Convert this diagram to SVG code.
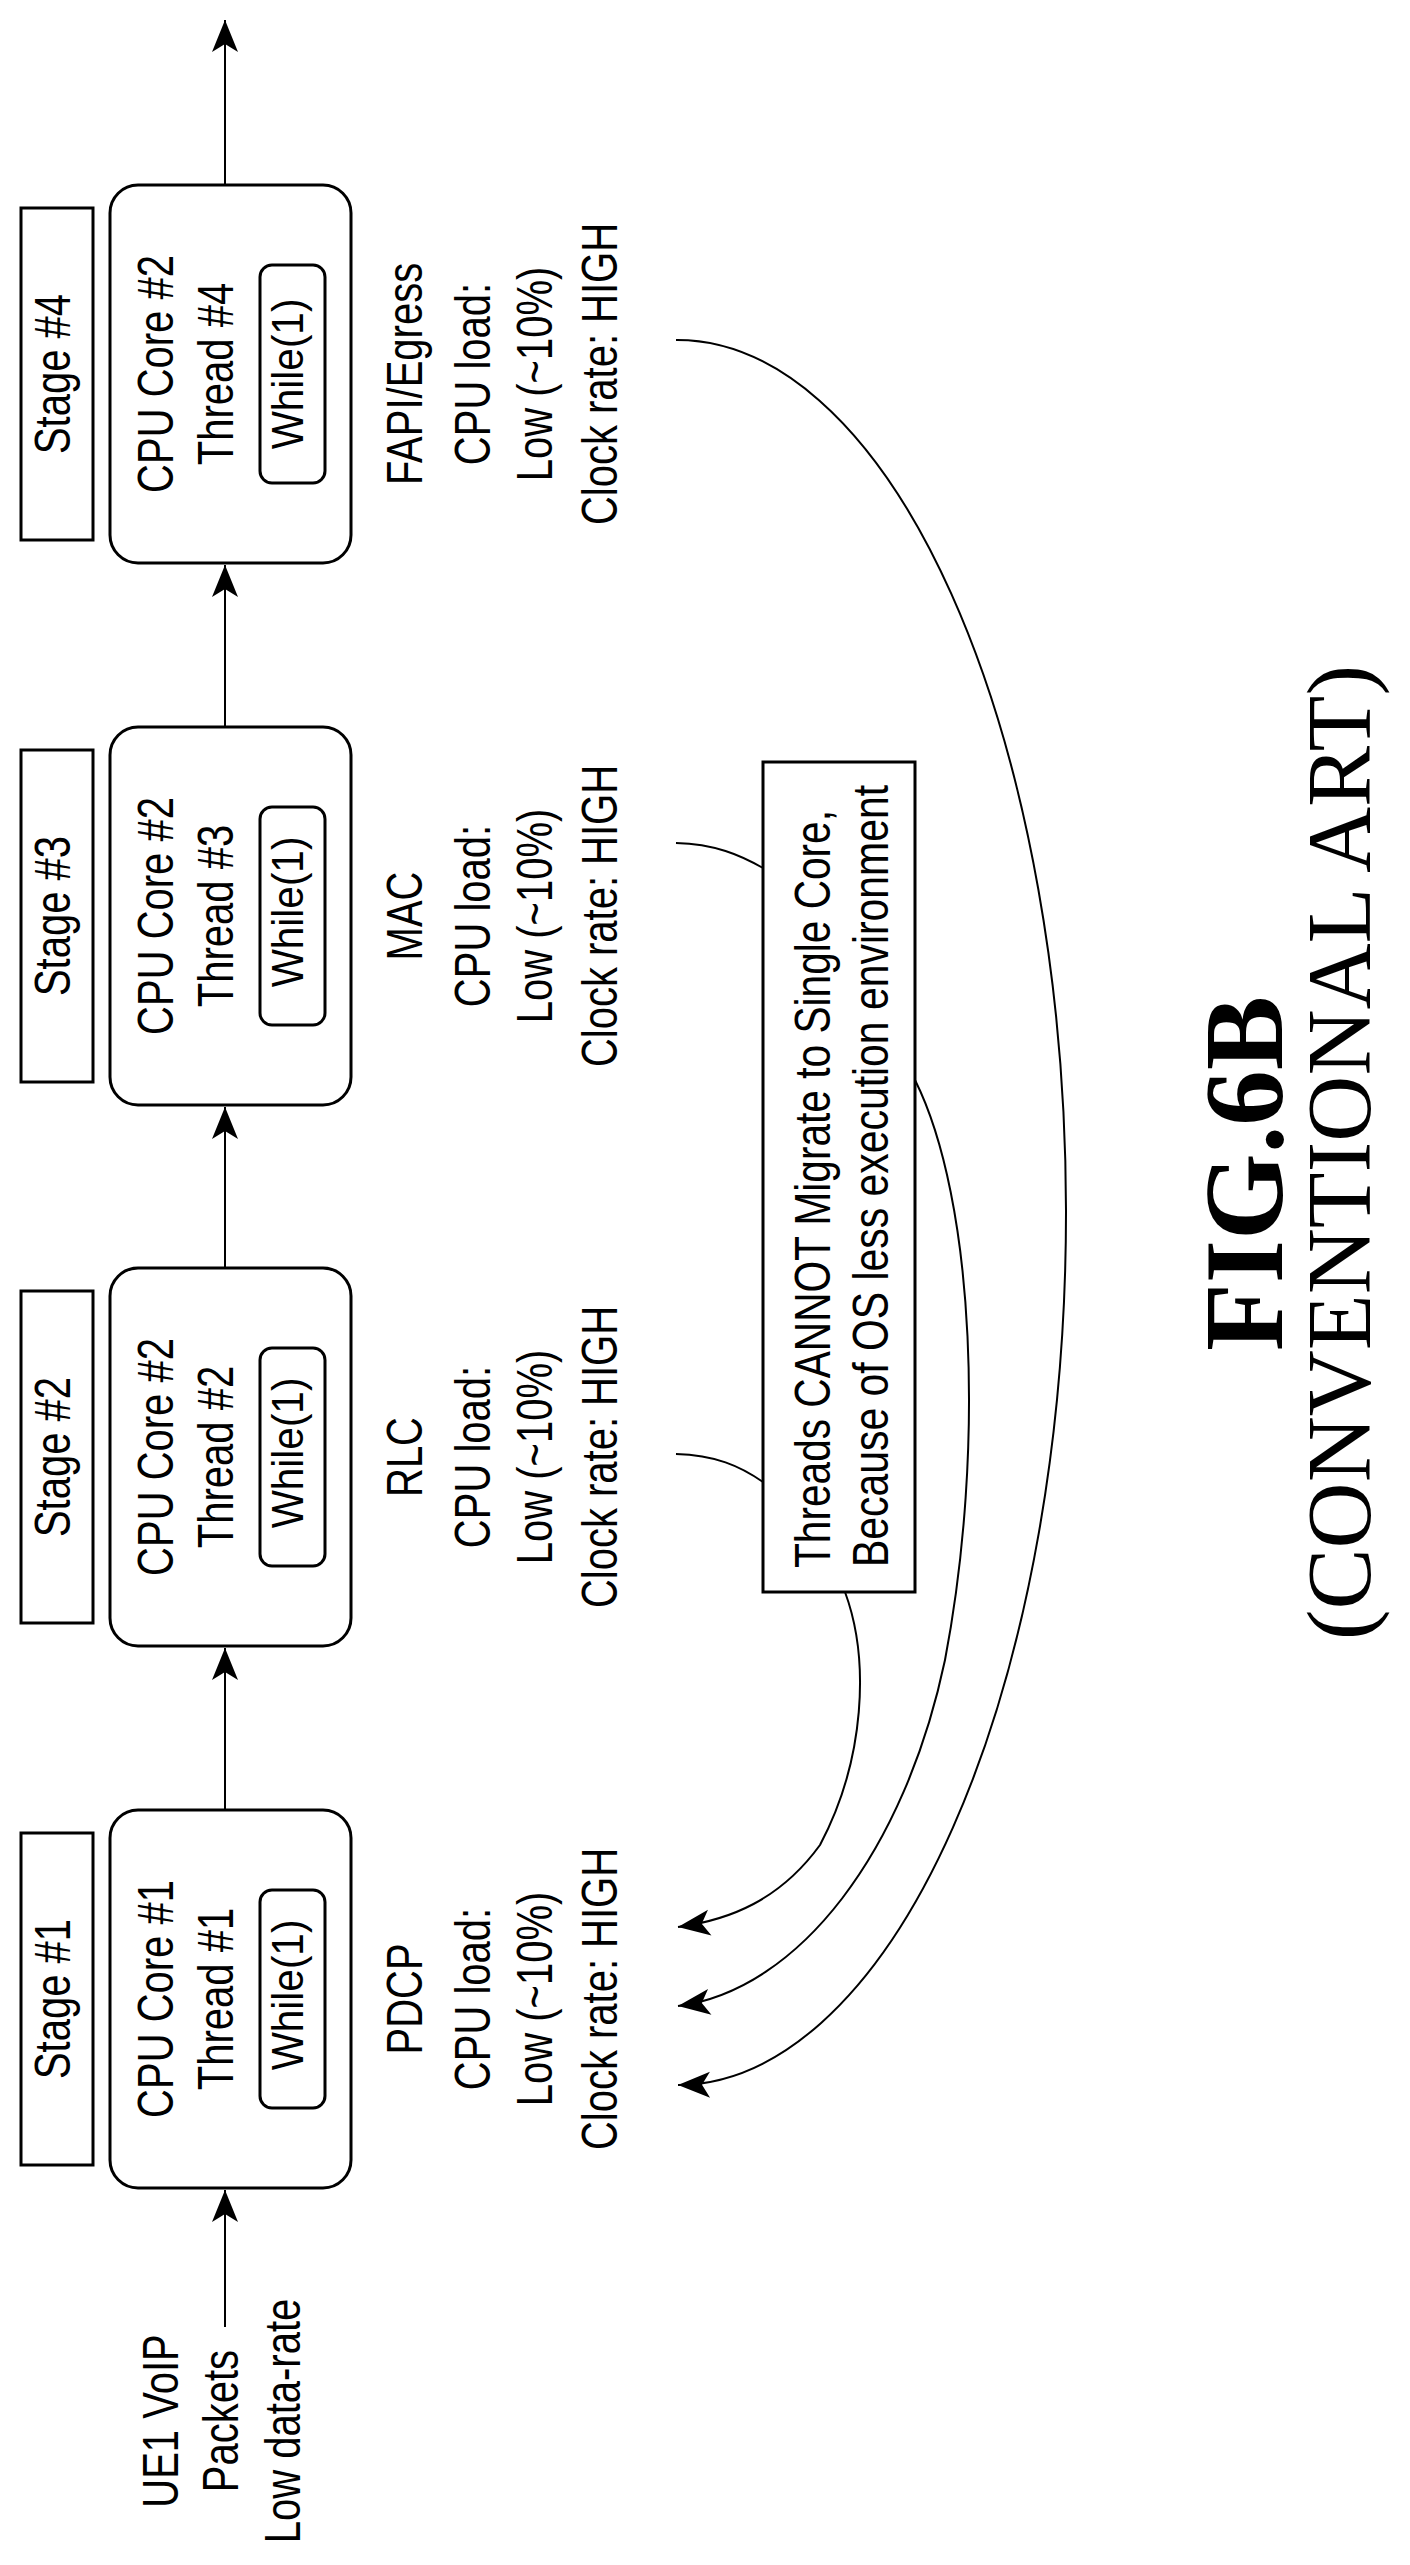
<svg xmlns="http://www.w3.org/2000/svg" width="1410" height="2565" viewBox="0 0 1410 2565">
<style>
.t{font-family:"Liberation Sans",Arial,sans-serif;font-size:50px;text-anchor:middle;fill:#000}
.w{font-family:"Liberation Sans",Arial,sans-serif;font-size:45px;text-anchor:middle;fill:#000}
.c{font-family:"Liberation Sans",Arial,sans-serif;font-size:50px;fill:#000}
.f{font-family:"Liberation Serif","Times New Roman",serif;fill:#000}
.box{fill:#fff;stroke:#000;stroke-width:3}
.ln{fill:none;stroke:#000;stroke-width:2}
</style>
<defs>
<marker id="ah" markerUnits="userSpaceOnUse" markerWidth="40" markerHeight="30" viewBox="-34 -15 36 30" refX="0" refY="0" orient="auto">
<path d="M0,0 L-32,-13 L-24,0 L-32,13 Z" fill="#000"/>
</marker>
</defs>
<rect width="1410" height="2565" fill="#fff"/>
<g id="connectors">
<path class="ln" d="M225,2327 L225,2190" marker-end="url(#ah)"/>
<path class="ln" d="M225,1810 L225,1648" marker-end="url(#ah)"/>
<path class="ln" d="M225,1268 L225,1107" marker-end="url(#ah)"/>
<path class="ln" d="M225,727 L225,565" marker-end="url(#ah)"/>
<path class="ln" d="M225,185 L225,20" marker-end="url(#ah)"/>
<path class="ln" d="M676,1454 C715,1455 740,1466 763,1482"/>
<path class="ln" d="M845,1592 C870,1660 865,1760 820,1845 C780,1900 730,1920 678,1927" marker-end="url(#ah)"/>
<path class="ln" d="M676,843 C715,844 740,855 763,868"/>
<path class="ln" d="M915,1080 C975,1200 985,1450 945,1660 C905,1850 800,1990 678,2006" marker-end="url(#ah)"/>
<path class="ln" d="M676,340 A389,872.5 0 0 1 678,2085" marker-end="url(#ah)"/>
</g>
<g id="input">
<text class="t" transform="translate(178,2421) rotate(-90) scale(0.8,1)">UE1 VoIP</text>
<text class="t" transform="translate(238,2421) rotate(-90) scale(0.8,1)">Packets</text>
<text class="t" transform="translate(300,2421) rotate(-90) scale(0.8,1)">Low data-rate</text>
</g>
<g id="stage1">
<rect class="box" x="21" y="1833" width="72" height="332"/>
<text class="t" transform="translate(70,1999) rotate(-90) scale(0.8,1)">Stage #1</text>
<rect class="box" x="110" y="1810" width="241" height="378" rx="28"/>
<text class="t" transform="translate(173,1999) rotate(-90) scale(0.8,1)">CPU Core #1</text>
<text class="t" transform="translate(233,1999) rotate(-90) scale(0.8,1)">Thread #1</text>
<rect class="box" x="260" y="1890" width="65" height="218" rx="12"/>
<text class="w" transform="translate(303,1995) rotate(-90) scale(0.9,1)">While(1)</text>
<text class="t" transform="translate(422,1999) rotate(-90) scale(0.8,1)">PDCP</text>
<text class="t" transform="translate(490,1999) rotate(-90) scale(0.8,1)">CPU load:</text>
<text class="t" transform="translate(552,1999) rotate(-90) scale(0.8,1)">Low (~10%)</text>
<text class="t" transform="translate(617,1999) rotate(-90) scale(0.8,1)">Clock rate: HIGH</text>
</g>
<g id="stage2">
<rect class="box" x="21" y="1291" width="72" height="332"/>
<text class="t" transform="translate(70,1457) rotate(-90) scale(0.8,1)">Stage #2</text>
<rect class="box" x="110" y="1268" width="241" height="378" rx="28"/>
<text class="t" transform="translate(173,1457) rotate(-90) scale(0.8,1)">CPU Core #2</text>
<text class="t" transform="translate(233,1457) rotate(-90) scale(0.8,1)">Thread #2</text>
<rect class="box" x="260" y="1348" width="65" height="218" rx="12"/>
<text class="w" transform="translate(303,1453) rotate(-90) scale(0.9,1)">While(1)</text>
<text class="t" transform="translate(422,1457) rotate(-90) scale(0.8,1)">RLC</text>
<text class="t" transform="translate(490,1457) rotate(-90) scale(0.8,1)">CPU load:</text>
<text class="t" transform="translate(552,1457) rotate(-90) scale(0.8,1)">Low (~10%)</text>
<text class="t" transform="translate(617,1457) rotate(-90) scale(0.8,1)">Clock rate: HIGH</text>
</g>
<g id="stage3">
<rect class="box" x="21" y="750" width="72" height="332"/>
<text class="t" transform="translate(70,916) rotate(-90) scale(0.8,1)">Stage #3</text>
<rect class="box" x="110" y="727" width="241" height="378" rx="28"/>
<text class="t" transform="translate(173,916) rotate(-90) scale(0.8,1)">CPU Core #2</text>
<text class="t" transform="translate(233,916) rotate(-90) scale(0.8,1)">Thread #3</text>
<rect class="box" x="260" y="807" width="65" height="218" rx="12"/>
<text class="w" transform="translate(303,912) rotate(-90) scale(0.9,1)">While(1)</text>
<text class="t" transform="translate(422,916) rotate(-90) scale(0.8,1)">MAC</text>
<text class="t" transform="translate(490,916) rotate(-90) scale(0.8,1)">CPU load:</text>
<text class="t" transform="translate(552,916) rotate(-90) scale(0.8,1)">Low (~10%)</text>
<text class="t" transform="translate(617,916) rotate(-90) scale(0.8,1)">Clock rate: HIGH</text>
</g>
<g id="stage4">
<rect class="box" x="21" y="208" width="72" height="332"/>
<text class="t" transform="translate(70,374) rotate(-90) scale(0.8,1)">Stage #4</text>
<rect class="box" x="110" y="185" width="241" height="378" rx="28"/>
<text class="t" transform="translate(173,374) rotate(-90) scale(0.8,1)">CPU Core #2</text>
<text class="t" transform="translate(233,374) rotate(-90) scale(0.8,1)">Thread #4</text>
<rect class="box" x="260" y="265" width="65" height="218" rx="12"/>
<text class="w" transform="translate(303,374) rotate(-90) scale(0.9,1)">While(1)</text>
<text class="t" transform="translate(422,374) rotate(-90) scale(0.8,1)">FAPI/Egress</text>
<text class="t" transform="translate(490,374) rotate(-90) scale(0.8,1)">CPU load:</text>
<text class="t" transform="translate(552,374) rotate(-90) scale(0.8,1)">Low (~10%)</text>
<text class="t" transform="translate(617,374) rotate(-90) scale(0.8,1)">Clock rate: HIGH</text>
</g>
<g id="callout">
<rect class="box" x="763" y="762" width="152" height="830"/>
<text class="c" transform="translate(830,1568) rotate(-90)" textLength="758" lengthAdjust="spacingAndGlyphs">Threads CANNOT Migrate to Single Core,</text>
<text class="c" transform="translate(888,1567) rotate(-90)" textLength="782" lengthAdjust="spacingAndGlyphs">Because of OS less execution environment</text>
</g>
<g id="caption">
<text class="f" font-size="113" font-weight="bold" transform="translate(1282,1351) rotate(-90)" textLength="355" lengthAdjust="spacingAndGlyphs">FIG.6B</text>
<text class="f" font-size="90" transform="translate(1370,1640) rotate(-90)" textLength="975" lengthAdjust="spacingAndGlyphs">(CONVENTIONAL ART)</text>
</g>
</svg>
